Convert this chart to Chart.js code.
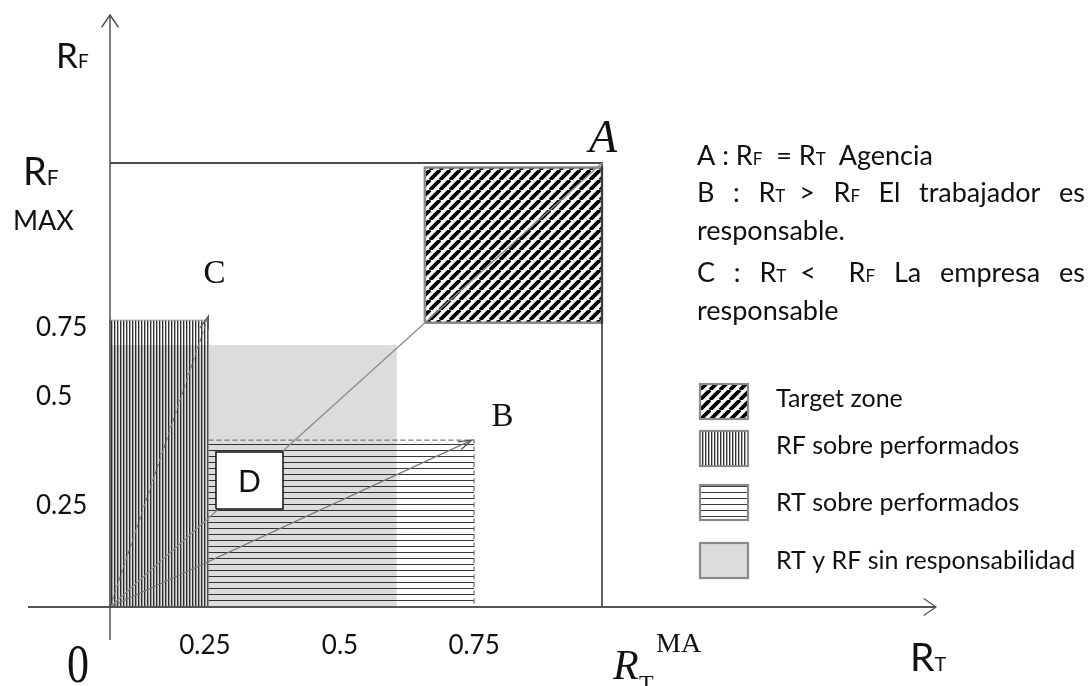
<!DOCTYPE html>
<html>
<head>
<meta charset="utf-8">
<script src="https://cdn.jsdelivr.net/npm/chart.js@4.4.1/dist/chart.umd.min.js"></script>
<style>
  html, body { margin: 0; padding: 0; background: #fff; overflow: hidden; }
  canvas { display: block; }
</style>
</head>
<body>
<canvas id="zones" width="1091" height="686"></canvas>
<script>
// Zones in RT / RF units (RT MAX = RF MAX = 1), as [x0, x1, y0, y1]
const targetZone = [0.64, 1.0, 0.64, 0.99];
const rfOver     = [0, 0.2, 0, 0.646];
const rtOver     = [0.2, 0.74, 0, 0.376];
const noResp     = [0, 0.583, 0, 0.59];
const boxD       = [0.2154, 0.3516, 0.2207, 0.349];

// Points
const origin = [0, 0];
const pointA = [1, 1];
const pointB = [0.735, 0.376];
const pointC = [0.2, 0.655];
const maxCorner = [1, 1];

// Tick labels (placed where the drawing puts them, not to scale)
const xTickValues = [0.193, 0.4675, 0.74];
const xTickLabels = ['0.25', '0.5', '0.75'];
const yTickValues = [0.63, 0.475, 0.23];
const yTickLabels = ['0.75', '0.5', '0.25'];

const legendLabels = ['Target zone', 'RF sobre performados', 'RT sobre performados', 'RT y RF sin responsabilidad'];

// Notes: [text, relative size]
const notes = [
  { parts: [['A : R'], ['F', 0.62], ['\u00A0\u00A0= R'], ['T', 0.62], ['\u00A0\u00A0Agencia']] },
  { parts: [['B : R'], ['T', 0.62], ['\u00A0\u00A0> R'], ['F', 0.62], [' El trabajador es']], justify: true },
  { parts: [['responsable.']] },
  { parts: [['C : R'], ['T', 0.62], ['\u00A0\u00A0<\u00A0\u00A0 R'], ['F', 0.62], [' La empresa es']], justify: true },
  { parts: [['responsable']] },
];

const SANS = 'Lato, "Open Sans", sans-serif';
const SERIF = '"Liberation Serif", "DejaVu Serif", serif';

function makePattern(w, h, draw) {
  const c = document.createElement('canvas');
  c.width = w; c.height = h;
  const g = c.getContext('2d');
  draw(g, w, h);
  return g.createPattern(c, 'repeat');
}

const diagonal = makePattern(10, 10, g => {
  g.strokeStyle = '#000'; g.lineWidth = 3.8;
  g.beginPath();
  for (const o of [-10, 0, 10]) { g.moveTo(o, 10); g.lineTo(o + 10, 0); }
  g.stroke();
});
const vertical = makePattern(3, 1, g => {
  g.fillStyle = 'rgba(0,0,0,0.8)'; g.fillRect(0, 0, 1, 1);
  g.fillStyle = 'rgba(0,0,0,0.3)'; g.fillRect(1, 0, 1, 1);
});
const horizontal = makePattern(1, 6, g => {
  g.fillStyle = 'rgba(0,0,0,0.78)'; g.fillRect(0, 0, 1, 1);
});

const pt = p => ({ x: p[0], y: p[1] });
const rectTop = r => [{ x: r[0], y: r[3] }, { x: r[1], y: r[3] }];
const rectOutline = r => [
  { x: r[0], y: r[2] }, { x: r[0], y: r[3] }, { x: r[1], y: r[3] }, { x: r[1], y: r[2] }, { x: r[0], y: r[2] },
];

const base = { type: 'line', pointRadius: 0, borderWidth: 0, fill: false, tension: 0 };

// back to front
const layers = [
  { ...base, data: rectTop(noResp), fill: { value: noResp[2] }, backgroundColor: '#dcdcdc' },
  { ...base, data: rectTop(rfOver), fill: { value: rfOver[2] }, backgroundColor: vertical },
  { ...base, data: rectOutline(rfOver), borderColor: '#9a9a9a', borderWidth: 1 },
  { ...base, data: rectTop(rtOver), fill: { value: rtOver[2] }, backgroundColor: horizontal },
  { ...base, data: [{ x: rtOver[0], y: rtOver[3] }, { x: rtOver[1], y: rtOver[3] }, { x: rtOver[1], y: rtOver[2] }],
    borderColor: '#777', borderWidth: 1.3, borderDash: [5, 3] },
  { ...base, data: rectTop(targetZone), fill: { value: targetZone[2] }, backgroundColor: diagonal },
  { ...base, data: rectOutline(targetZone), borderColor: '#8a8a8a', borderWidth: 2.5 },
  { ...base, data: [{ x: 0, y: maxCorner[1] }, pt(maxCorner), { x: maxCorner[0], y: 0 }], borderColor: '#111', borderWidth: 1.3 },
  { ...base, data: [pt(origin), pt(pointC)], borderColor: '#777', borderWidth: 1.3, borderDash: [4, 3], arrow: true },
  { ...base, data: [pt(origin), pt(pointB)], borderColor: '#777', borderWidth: 1.3, arrow: true },
  { ...base, data: [pt(origin), pt(pointA)], borderColor: '#8c8c8c', borderWidth: 1.3 },
  { ...base, data: rectTop(boxD), fill: { value: boxD[2] }, backgroundColor: '#fff' },
  { ...base, data: rectOutline(boxD), borderColor: '#111', borderWidth: 1.5 },
];
layers.forEach((d, i) => { d.order = layers.length - i; });

function richText(ctx, x, y, parts, size, family, justifyTo) {
  const pieces = [];
  parts.forEach(([t, s]) => t.split(/( )/).forEach(p => { if (p !== '') pieces.push([p, s || 1]); }));
  const font = s => `${Math.round(size * s)}px ${family}`;
  let natural = 0, spaces = 0;
  pieces.forEach(([p, s]) => { ctx.font = font(s); natural += ctx.measureText(p).width; if (p === ' ') spaces++; });
  const extra = justifyTo && spaces ? Math.max(-2, (justifyTo - x - natural) / spaces) : 0;
  let cx = x;
  pieces.forEach(([p, s]) => {
    ctx.font = font(s);
    if (p !== ' ') ctx.fillText(p, cx, y);
    cx += ctx.measureText(p).width + (p === ' ' ? extra : 0);
  });
}

function openHead(ctx, tx, ty, angle, len, spread) {
  ctx.beginPath();
  ctx.moveTo(tx - len * Math.cos(angle - spread), ty - len * Math.sin(angle - spread));
  ctx.lineTo(tx, ty);
  ctx.lineTo(tx - len * Math.cos(angle + spread), ty - len * Math.sin(angle + spread));
  ctx.stroke();
}

const annotations = {
  id: 'annotations',
  afterDatasetsDraw(chart) {
    const { ctx } = chart;
    const sx = chart.scales.x, sy = chart.scales.y;
    const X = v => sx.getPixelForValue(v), Y = v => sy.getPixelForValue(v);
    const ox = X(0), oy = Y(0);
    ctx.save();
    ctx.setLineDash([]);

    // arrowheads on the C and B vectors
    chart.data.datasets.forEach(d => {
      if (!d.arrow) return;
      const a = d.data[0], b = d.data[d.data.length - 1];
      const x1 = X(a.x), y1 = Y(a.y), x2 = X(b.x), y2 = Y(b.y);
      ctx.strokeStyle = '#555'; ctx.lineWidth = 1.3;
      openHead(ctx, x2, y2, Math.atan2(y2 - y1, x2 - x1), 14, 0.3);
    });

    // axes
    ctx.strokeStyle = '#555'; ctx.lineWidth = 2;
    ctx.beginPath(); ctx.moveTo(28, oy); ctx.lineTo(936, oy); ctx.stroke();
    ctx.lineWidth = 1.3;
    openHead(ctx, 936, oy, 0, 15, 0.6);
    ctx.strokeStyle = '#444'; ctx.lineWidth = 1.4;
    ctx.beginPath(); ctx.moveTo(ox, 640); ctx.lineTo(ox, 15); ctx.stroke();
    openHead(ctx, ox, 15, -Math.PI / 2, 15, 0.6);

    ctx.fillStyle = '#111';
    ctx.textBaseline = 'alphabetic';

    // tick labels
    ctx.font = `26px ${SANS}`;
    ctx.textAlign = 'center';
    xTickValues.forEach((v, i) => ctx.fillText(xTickLabels[i], X(v), oy + 47));
    ctx.textAlign = 'left';
    yTickValues.forEach((v, i) => ctx.fillText(yTickLabels[i], 36, Y(v) + 9));

    // axis titles
    richText(ctx, 56, 68, [['R'], ['F', 0.55]], 35, SANS);
    richText(ctx, 23, 185, [['R'], ['F', 0.55]], 38, SANS);
    ctx.font = `27px ${SANS}`;
    ctx.fillText('MAX', 13, 230);
    richText(ctx, 910, 671, [['R'], ['T', 0.5]], 39, SANS);

    // point letters
    ctx.font = `italic 46px ${SERIF}`;
    ctx.fillText('A', X(pointA[0]) - 13, Y(pointA[1]) - 11);
    ctx.font = `33px ${SERIF}`;
    ctx.fillText('B', X(pointB[0]) + 20, Y(pointB[1]) - 14);
    ctx.fillText('C', X(pointC[0]) - 5, Y(pointC[1]) - 33);
    ctx.save();
    ctx.translate(ox - 43, oy + 75);
    ctx.scale(1, 1.25);
    ctx.font = `44px ${SERIF}`;
    ctx.fillText('0', 0, 0);
    ctx.restore();
    ctx.font = `italic 42px ${SERIF}`;
    ctx.fillText('R', X(maxCorner[0]) + 11, oy + 72);
    ctx.font = `24px ${SERIF}`;
    ctx.fillText('T', X(maxCorner[0]) + 37, oy + 84);
    ctx.font = `28px ${SERIF}`;
    ctx.fillText('MA', X(maxCorner[0]) + 54, oy + 45);

    ctx.font = `30px ${SANS}`;
    ctx.textAlign = 'center';
    ctx.fillText('D', (X(boxD[0]) + X(boxD[1])) / 2, (Y(boxD[2]) + Y(boxD[3])) / 2 + 11);
    ctx.textAlign = 'left';

    // notes
    const noteBaselines = [165, 202, 240, 282, 320];
    notes.forEach((n, i) => richText(ctx, 697, noteBaselines[i], n.parts, 27, SANS, n.justify ? 1085 : 0));

    // legend
    const fills = [diagonal, vertical, horizontal, '#dcdcdc'];
    const swTop = [384, 431, 485, 543];
    const labY = [407, 454, 511, 569];
    legendLabels.forEach((lab, i) => {
      ctx.fillStyle = '#fff';
      ctx.fillRect(700, swTop[i], 48, 35);
      ctx.fillStyle = fills[i];
      ctx.fillRect(700, swTop[i], 48, 35);
      ctx.strokeStyle = '#8a8a8a'; ctx.lineWidth = 2.2;
      ctx.strokeRect(700, swTop[i], 48, 35);
      ctx.fillStyle = '#111';
      ctx.font = `25px ${SANS}`;
      ctx.fillText(lab, 776, labY[i]);
    });
    ctx.restore();
  }
};

new Chart(document.getElementById('zones'), {
  type: 'scatter',
  data: { datasets: layers },
  options: {
    responsive: false,
    animation: false,
    events: [],
    layout: { padding: 0 },
    scales: {
      x: { type: 'linear', min: -110 / 492, max: 981 / 492, display: false },
      y: { type: 'linear', min: -79 / 444, max: 607 / 444, display: false },
    },
    plugins: { legend: { display: false }, tooltip: { enabled: false } },
  },
  plugins: [annotations],
});
</script>
</body>
</html>
